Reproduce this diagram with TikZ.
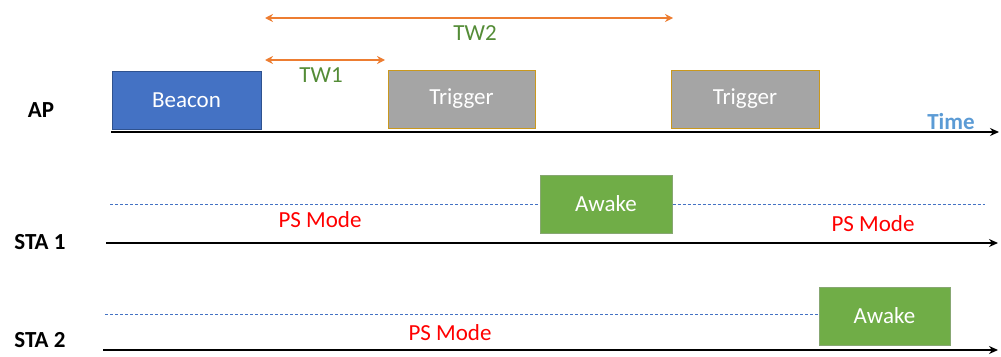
\documentclass[tikz,border=0pt]{standalone}
\usepackage{fontspec}
\setmainfont{Carlito}
\usetikzlibrary{arrows.meta}
\definecolor{beaconblue}{RGB}{68,114,196}
\definecolor{beaconedge}{RGB}{47,82,143}
\definecolor{trigfill}{RGB}{165,165,165}
\definecolor{trigedge}{RGB}{201,152,30}
\definecolor{awakegreen}{RGB}{112,173,71}
\definecolor{awakeedge}{RGB}{84,130,53}
\definecolor{arrorange}{RGB}{237,125,49}
\definecolor{twgreen}{RGB}{84,140,55}
\definecolor{timeblue}{RGB}{91,155,213}
\definecolor{dashblue}{RGB}{68,114,196}
\definecolor{psred}{RGB}{255,0,0}
\tikzset{
  txt/.style={font=\fontsize{23}{27}\selectfont, inner sep=0pt},
  lbl/.style={txt, font=\fontsize{23}{27}\selectfont\bfseries},
  slot/.style={txt, text=white, minimum height=58pt, line width=1pt},
  beaconbox/.style={slot, fill=beaconblue, draw=beaconedge},
  trigbox/.style={slot, fill=trigfill, draw=trigedge},
  awakebox/.style={slot, fill=awakegreen, draw=awakeedge!70},
  axis/.style={line width=2pt, -{Stealth[length=9pt,width=8pt]}},
  tw/.style={line width=2pt, draw=arrorange, {Stealth[length=8pt,width=8pt]}-{Stealth[length=8pt,width=8pt]}},
  ps/.style={dashed, dash pattern=on 3pt off 2pt, draw=dashblue, line width=0.8pt},
  pstxt/.style={txt, text=psred}
}
\begin{document}
\begin{tikzpicture}[x=1pt,y=-1pt]
\useasboundingbox (0,0) rectangle (1001,356);
% AP row
\node[beaconbox, minimum width=149pt] (beacon) at (186.5,100) {Beacon};
\node[trigbox, minimum width=147pt] (trig1) at (461.5,99) {Trigger};
\node[trigbox, minimum width=148pt] (trig2) at (745,99) {Trigger};
\coordinate (apS) at (111,132);
\coordinate (apE) at (999,132);
\draw[axis] (apS) -- (apE);
\node[lbl] (ap) at (41,110) {AP};
\node[lbl, text=timeblue] (time) at (951,122) {Time};
% TW arrows
\coordinate (tw2a) at (265,18);
\coordinate (tw2b) at (673,18);
\draw[tw] (tw2a) -- (tw2b);
\node[txt, text=twgreen] (tw2) at (475,33) {TW2};
\coordinate (tw1a) at (265,60);
\coordinate (tw1b) at (385,60);
\draw[tw] (tw1a) -- (tw1b);
\node[txt, text=twgreen] (tw1) at (321,75) {TW1};
% STA 1 row
\node[awakebox, minimum width=132pt] (aw1) at (606,204) {Awake};
\coordinate (s1d) at (110,204);
\coordinate (s1e) at (985,204);
\draw[ps] (s1d) -- (aw1.west);
\draw[ps] (aw1.east) -- (s1e);
\node[pstxt] (ps1) at (320,220) {PS Mode};
\node[pstxt] (ps2) at (873,224) {PS Mode};
\coordinate (s1S) at (106,243);
\coordinate (s1E) at (998,243);
\draw[axis] (s1S) -- (s1E);
\node[lbl] (sta1) at (40,242) {STA 1};
% STA 2 row
\node[awakebox, minimum width=131pt] (aw2) at (884.5,316) {Awake};
\coordinate (s2d) at (105,314);
\draw[ps] (s2d) -- (aw2.west |- s2d);
\node[pstxt] (ps3) at (450,333) {PS Mode};
\coordinate (s2S) at (103,350);
\coordinate (s2E) at (998,350);
\draw[axis] (s2S) -- (s2E);
\node[lbl] (sta2) at (40,340) {STA 2};
\end{tikzpicture}
\end{document}
